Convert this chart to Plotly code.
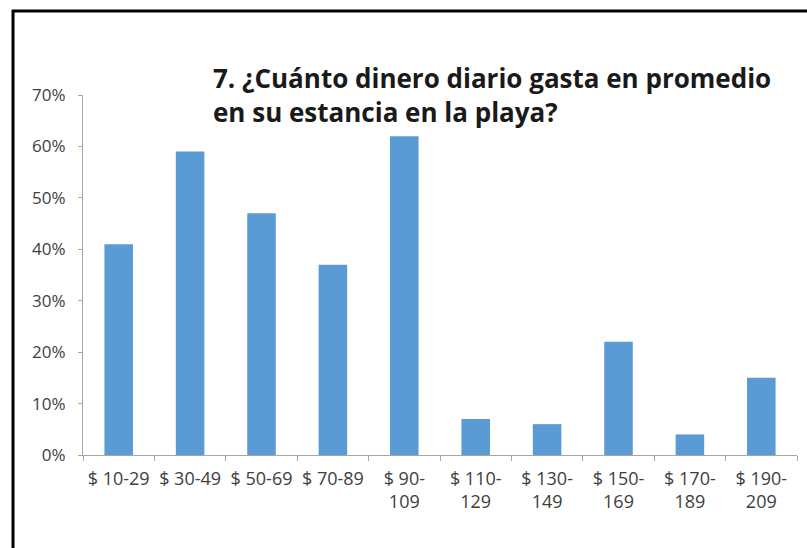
import plotly.graph_objects as go

categories = ["$ 10-29", "$ 30-49", "$ 50-69", "$ 70-89", "$ 90-109",
              "$ 110-129", "$ 130-149", "$ 150-169", "$ 170-189", "$ 190-209"]
tick_labels = ["$ 10-29", "$ 30-49", "$ 50-69", "$ 70-89", "$ 90-<br>109",
               "$ 110-<br>129", "$ 130-<br>149", "$ 150-<br>169", "$ 170-<br>189", "$ 190-<br>209"]
values = [0.41, 0.59, 0.47, 0.37, 0.62, 0.07, 0.06, 0.22, 0.04, 0.15]
y_ticks = [0, 0.1, 0.2, 0.3, 0.4, 0.5, 0.6, 0.7]
title_text = "7. ¿Cuánto dinero diario gasta en promedio<br>en su estancia en la playa?"

L, R, T, B = 83, 10, 95, 93
W, H = 807, 548
pw, ph = W - L - R, H - T - B

def px(x):
    return (x - L) / pw

def py(y):
    return (H - B - y) / ph

FONT = "Open Sans, Lato, sans-serif"

fig = go.Figure(go.Bar(x=categories, y=values, marker_color="#5B9BD5",
                       marker_line_width=0, width=0.4))

fig.update_layout(
    width=W, height=H,
    margin=dict(l=L, r=R, t=T, b=B),
    paper_bgcolor="white", plot_bgcolor="white",
    showlegend=False,
    font=dict(family=FONT, color="#404040", size=18),
    bargap=0.6,
)
fig.update_xaxes(
    tickvals=categories, ticktext=tick_labels, tickangle=0,
    showline=True, linecolor="#A6A6A6", linewidth=1,
    ticks="outside", tickson="boundaries", ticklen=5, tickcolor="#A6A6A6",
    showgrid=False, tickfont=dict(family=FONT, size=18, color="#404040"),
    ticklabelstandoff=7,
)
fig.update_yaxes(
    range=[0, 0.7], tickvals=y_ticks, tickformat=".0%",
    showline=True, linecolor="#A6A6A6", linewidth=1,
    ticks="outside", ticklen=4, tickcolor="#A6A6A6",
    showgrid=False, zeroline=False, tickfont=dict(family=FONT, size=17, color="#404040"),
    ticklabelstandoff=9,
)
fig.add_annotation(
    text="<b>" + title_text + "</b>", xref="paper", yref="paper",
    x=px(211), y=py(58), xanchor="left", yanchor="top", align="left",
    showarrow=False, font=dict(family=FONT, size=26, color="#1a1a1a"),
)
# frame lines (top and left)
fig.add_shape(type="line", xref="paper", yref="paper",
              x0=px(12), x1=px(807), y0=py(11), y1=py(11),
              line=dict(color="black", width=3))
fig.add_shape(type="line", xref="paper", yref="paper",
              x0=px(13), x1=px(13), y0=py(10), y1=py(548),
              line=dict(color="black", width=3))

fig.write_html("out.html")
